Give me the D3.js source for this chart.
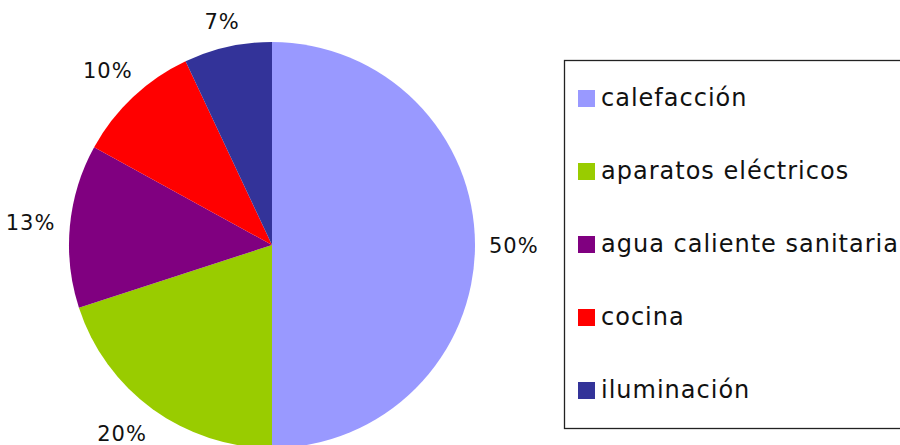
<!DOCTYPE html>
<html>
<head>
<meta charset="utf-8">
<script src="https://cdn.jsdelivr.net/npm/d3@7"></script>
<style>
  body { margin: 0; background: #fff; }
  svg { display: block; font-family: "DejaVu Sans", Verdana, sans-serif; }
</style>
</head>
<body>
<svg id="chart" width="900" height="445"></svg>
<script>
// data
var categories = ["calefacción", "aparatos eléctricos", "agua caliente sanitaria", "cocina", "iluminación"];
var values = [50, 20, 13, 10, 7];
var colors = ["#9999FF", "#99CC00", "#800080", "#FF0000", "#333399"];

var svg = d3.select("#chart");
var width = 900, height = 445;
var cx = 272, cy = 245, radius = 203;

var data = categories.map(function(c, i) {
    return {name: c, value: values[i], color: colors[i]};
});

var pie = d3.pie().sort(null).value(function(d) { return d.value; });
var arc = d3.arc().innerRadius(0).outerRadius(radius);
var arcs = pie(data);

var g = svg.append("g").attr("transform", "translate(" + cx + "," + cy + ")");

g.selectAll("path.slice")
    .data(arcs)
    .enter().append("path")
    .attr("class", "slice")
    .attr("d", arc)
    .attr("fill", function(d) { return d.data.color; });

// labels outside, pushed out so the box just clears the rim
var total = d3.sum(values);
g.selectAll("text.pct")
    .data(arcs)
    .enter().append("text")
    .attr("class", "pct")
    .text(function(d) { return Math.round(d.data.value / total * 100) + "%"; })
    .attr("font-size", "21px")
    .attr("letter-spacing", "1px")
    .attr("fill", "#111")
    .attr("text-anchor", "middle")
    .attr("dy", "0.36em")
    .each(function(d) {
        var a = (d.startAngle + d.endAngle) / 2;
        var w = this.getComputedTextLength(), h = 16;
        var ext = Math.abs(Math.sin(a)) * w / 2 + Math.abs(Math.cos(a)) * h / 2;
        var r = radius + 14 + ext;
        var x = Math.sin(a) * r, y = -Math.cos(a) * r;
        // keep the label inside the chart area (like excel does)
        y = Math.min(y, height - cy - 12);
        if (y > 150) x -= 10;
        d3.select(this).attr("x", x).attr("y", y);
    });

// legend
var legend = svg.append("g");
legend.append("rect")
    .attr("x", 564.5)
    .attr("y", 60.5)
    .attr("width", 360)
    .attr("height", 368)
    .attr("fill", "none")
    .attr("stroke", "#222")
    .attr("stroke-width", 1.3);

var ly = d3.scalePoint().domain(categories).range([98, 390]);

var item = legend.selectAll("g.item")
    .data(data)
    .enter().append("g")
    .attr("class", "item")
    .attr("transform", function(d) { return "translate(578," + ly(d.name) + ")"; });

item.append("rect")
    .attr("x", 0)
    .attr("y", -8)
    .attr("width", 17)
    .attr("height", 17)
    .attr("fill", function(d) { return d.color; });

item.append("text")
    .attr("x", 23)
    .attr("y", 8)
    .attr("font-size", "24px")
    .attr("letter-spacing", "1px")
    .attr("fill", "#111")
    .text(function(d) { return d.name; });
</script>
</body>
</html>
